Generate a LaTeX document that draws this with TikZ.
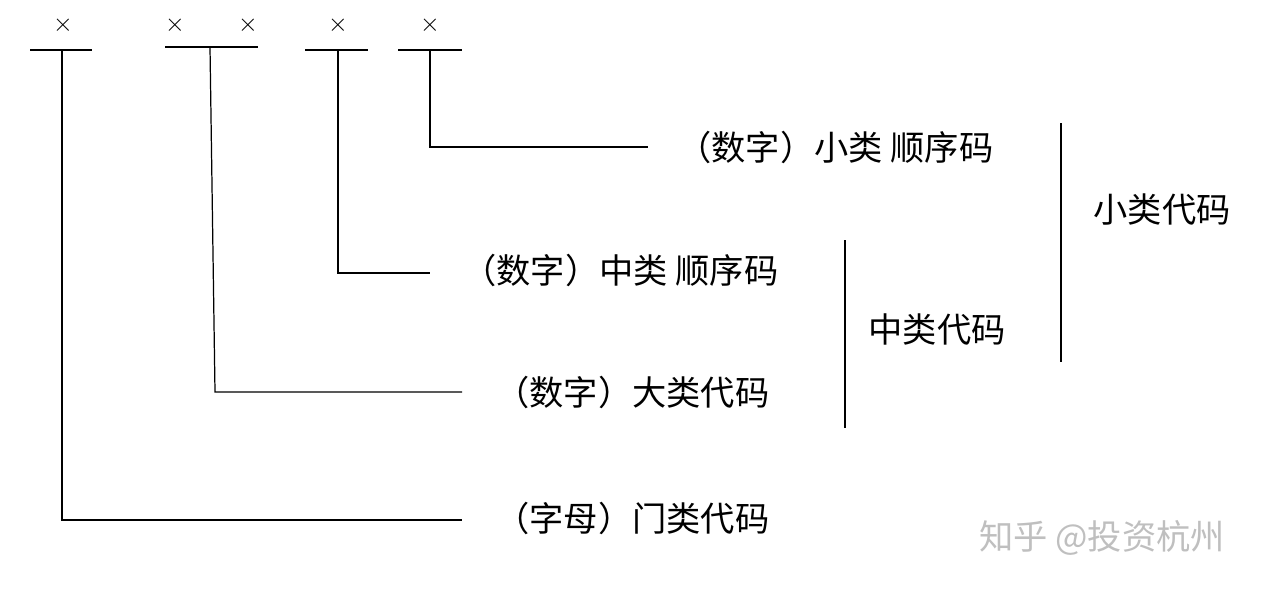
\documentclass[tikz,border=0pt]{standalone}
\usepackage{fontspec}
\newfontfamily\cjk{Noto Sans CJK SC}
\usetikzlibrary{positioning}
\tikzset{
  lbl/.style={font=\cjk\fontsize{19.5}{22}\selectfont, inner sep=0pt},
  crossmark/.style={font=\fontsize{14}{16}\selectfont, inner sep=0pt},
  ln/.style={line width=0.7pt, black}
}
\begin{document}
\begin{tikzpicture}[x=0.02cm,y=-0.02cm]
  \useasboundingbox (0,0) rectangle (1270,588);

  % the five code positions
  \node [crossmark] (m1) at (63,25) {$\times$};
  \node [crossmark] (m2) at (175,25) {$\times$};
  \node [crossmark] (m3) at (248,25) {$\times$};
  \node [crossmark] (m4) at (338,25) {$\times$};
  \node [crossmark] (m5) at (430,25) {$\times$};

  \draw [ln] (30,50) -- (92,50);
  \draw [ln] (165,47) -- (258,47);
  \draw [ln] (305,50) -- (368,50);
  \draw [ln] (398,50) -- (462,50);

  \coordinate (t1) at (62,50);
  \coordinate (t2) at (210,47);
  \coordinate (t4) at (338,50);
  \coordinate (t5) at (430,50);

  % labels
  \node [lbl, anchor=west] (men) at (495,518) {（字母）门类代码};
  \node [lbl, anchor=west] (da) at (495,392) {（数字）大类代码};
  \node [lbl, anchor=west] (zhong) at (462,270) {（数字）中类 顺序码};
  \node [lbl, anchor=west] (xiao) at (677,147) {（数字）小类 顺序码};

  \coordinate (c1) at (62,520);
  \coordinate (c2) at (215,392);
  \coordinate (c4) at (338,273);
  \coordinate (c5) at (430,147);

  \draw [ln] (t1) -- (c1) -- (462,520);
  \draw [ln] (t2) -- (c2) -- (462,392);
  \draw [ln] (t4) -- (c4) -- (430,273);
  \draw [ln] (t5) -- (c5) -- (648,147);

  % groupings
  \draw [ln] (845,240) -- (845,428);
  \node [lbl] (zdm) at (937,330) {中类代码};
  \draw [ln] (1061,123) -- (1061,362);
  \node [lbl] (xdm) at (1162,210) {小类代码};

  \node [lbl, text=black!25] (wm) at (1102,538) {知乎 @投资杭州};
\end{tikzpicture}
\end{document}
